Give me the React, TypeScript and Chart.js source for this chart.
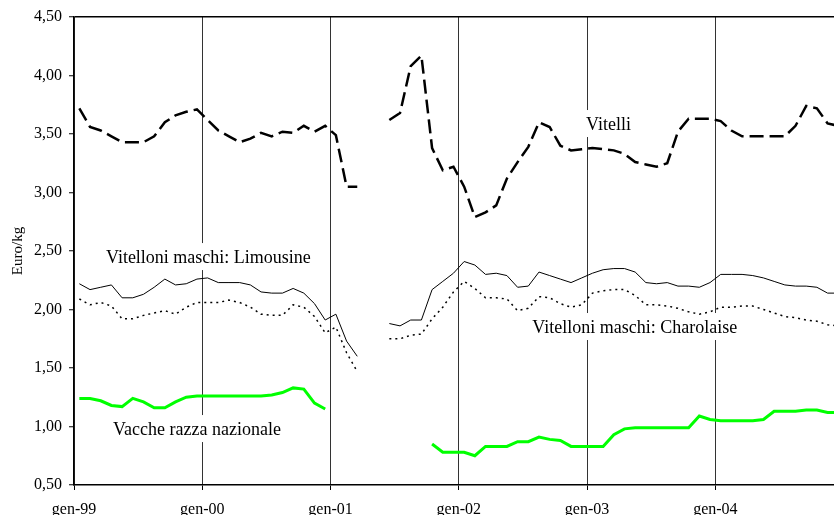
import React, { useEffect, useRef } from 'react';
import { Chart, registerables } from 'chart.js';

Chart.register(...registerables);

// Year tick labels (one every 12 months)
const yearLabels = ['gen-99', 'gen-00', 'gen-01', 'gen-02', 'gen-03', 'gen-04'];
const monthNames = ['gen', 'feb', 'mar', 'apr', 'mag', 'giu', 'lug', 'ago', 'set', 'ott', 'nov', 'dic'];
const years = ['99', '00', '01', '02', '03', '04'];
const months = years.flatMap((yy) => monthNames.map((m) => `${m}-${yy}`));

// Euro/kg, monthly gen-99 .. dic-04 (null = missing)
const vitelli = [
  3.72, 3.56, 3.53, 3.48, 3.43, 3.43, 3.43, 3.48, 3.60, 3.66, 3.69, 3.71,
  3.62, 3.53, 3.48, 3.43, 3.46, 3.51, 3.48, 3.52, 3.51, 3.57, 3.52, 3.57,
  3.49, 3.05, 3.05, null, null, 3.62, 3.68, 4.08, 4.17, 3.38, 3.19, 3.22,
  3.05, 2.79, 2.83, 2.89, 3.12, 3.26, 3.39, 3.60, 3.56, 3.40, 3.36, 3.37,
  3.38, 3.37, 3.36, 3.33, 3.26, 3.24, 3.22, 3.25, 3.52, 3.63, 3.63, 3.63,
  3.61, 3.53, 3.48, 3.48, 3.48, 3.48, 3.48, 3.57, 3.74, 3.72, 3.59, 3.57,
];
const limousine = [
  2.22, 2.17, 2.19, 2.21, 2.10, 2.10, 2.13, 2.19, 2.26, 2.21, 2.22, 2.26,
  2.27, 2.23, 2.23, 2.23, 2.21, 2.15, 2.14, 2.14, 2.18, 2.14, 2.05, 1.91,
  1.96, 1.73, 1.60, null, null, 1.88, 1.86, 1.91, 1.91, 2.17, 2.24, 2.31,
  2.41, 2.38, 2.30, 2.31, 2.29, 2.19, 2.20, 2.32, 2.29, 2.26, 2.23, 2.27,
  2.31, 2.34, 2.35, 2.35, 2.32, 2.23, 2.22, 2.23, 2.20, 2.20, 2.19, 2.23,
  2.30, 2.30, 2.30, 2.29, 2.27, 2.24, 2.21, 2.20, 2.20, 2.19, 2.14, 2.14,
];
const charolaise = [
  2.09, 2.04, 2.06, 2.03, 1.92, 1.92, 1.95, 1.97, 1.99, 1.96, 2.02, 2.06,
  2.06, 2.06, 2.08, 2.06, 2.02, 1.96, 1.95, 1.95, 2.04, 2.02, 1.94, 1.80,
  1.85, 1.63, 1.47, null, null, 1.75, 1.75, 1.78, 1.79, 1.92, 2.02, 2.15,
  2.24, 2.18, 2.10, 2.10, 2.09, 1.99, 2.01, 2.11, 2.10, 2.05, 2.02, 2.04,
  2.14, 2.16, 2.17, 2.17, 2.12, 2.04, 2.04, 2.03, 2.01, 1.98, 1.96, 1.98,
  2.02, 2.02, 2.03, 2.03, 2.00, 1.97, 1.94, 1.93, 1.91, 1.90, 1.87, 1.86,
];
const vacche = [
  1.24, 1.24, 1.22, 1.18, 1.17, 1.24, 1.21, 1.16, 1.16, 1.21, 1.25, 1.26,
  1.26, 1.26, 1.26, 1.26, 1.26, 1.26, 1.27, 1.29, 1.33, 1.32, 1.20, 1.15,
  null, null, null, null, null, null, null, null, null, 0.85, 0.78, 0.78,
  0.78, 0.75, 0.83, 0.83, 0.83, 0.87, 0.87, 0.91, 0.89, 0.88, 0.83, 0.83,
  0.83, 0.83, 0.93, 0.98, 0.99, 0.99, 0.99, 0.99, 0.99, 0.99, 1.09, 1.06,
  1.05, 1.05, 1.05, 1.05, 1.06, 1.13, 1.13, 1.13, 1.14, 1.14, 1.12, 1.12,
];

// Series labels anchored in data coordinates (month position, value at text baseline)
const seriesLabels = [
  { text: 'Vitelli', month: 47.9, value: 3.534, align: 'left' },
  { text: 'Vitelloni maschi: Limousine', month: 2.99, value: 2.397, align: 'left' },
  { text: 'Vitelloni maschi: Charolaise', month: 62.04, value: 1.799, align: 'right' },
  { text: 'Vacche razza nazionale', month: 3.65, value: 0.927, align: 'left' },
];

const X_MAX = 71.1;
const SERIF = '"Liberation Serif", "Times New Roman", serif';

const toPoints = (arr: (number | null)[]) => arr.map((v, i) => ({ x: i + 0.5, y: v, label: months[i] }));

const labelPlugin = {
  id: 'seriesLabels',
  beforeDatasetsDraw(chart: any) {
    const { ctx, scales } = chart;
    const xs = scales.x;
    const ys = scales.y;
    ctx.save();
    ctx.font = `18px ${SERIF}`;
    ctx.textBaseline = 'alphabetic';
    ctx.textAlign = 'left';
    for (const a of seriesLabels) {
      const w = ctx.measureText(a.text).width;
      const px = xs.getPixelForValue(a.month);
      const py = ys.getPixelForValue(a.value);
      const left = a.align === 'right' ? px - w : px;
      ctx.fillStyle = '#ffffff';
      ctx.fillRect(left - 3, py - 20, w + 6, 27);
      ctx.fillStyle = '#000000';
      ctx.fillText(a.text, left, py);
    }
    ctx.restore();
  },
};

export default function App() {
  const ref = useRef<HTMLCanvasElement | null>(null);

  useEffect(() => {
    if (!ref.current) return;
    const chart = new Chart(ref.current, {
      type: 'line',
      data: {
        datasets: [
          {
            label: 'Vitelli',
            data: toPoints(vitelli) as any,
            borderColor: '#000',
            borderWidth: 2.5,
            borderDash: [14, 6],
            pointRadius: 0,
            tension: 0,
            spanGaps: false,
          },
          {
            label: 'Vitelloni maschi: Limousine',
            data: toPoints(limousine) as any,
            borderColor: '#000',
            borderWidth: 1,
            pointRadius: 0,
            tension: 0,
            spanGaps: false,
          },
          {
            label: 'Vitelloni maschi: Charolaise',
            data: toPoints(charolaise) as any,
            borderColor: '#000',
            borderWidth: 1.5,
            borderDash: [2, 4],
            pointRadius: 0,
            tension: 0,
            spanGaps: false,
          },
          {
            label: 'Vacche razza nazionale',
            data: toPoints(vacche) as any,
            borderColor: '#00ff00',
            borderWidth: 3,
            pointRadius: 0,
            tension: 0,
            spanGaps: false,
          },
        ],
      },
      options: {
        responsive: false,
        animation: false,
        devicePixelRatio: 1,
        parsing: { xAxisKey: 'x', yAxisKey: 'y' } as any,
        layout: { padding: { top: 17, right: 0, left: 0, bottom: 0 } },
        plugins: { legend: { display: false }, tooltip: { enabled: false } },
        scales: {
          x: {
            type: 'linear',
            min: 0,
            max: X_MAX,
            afterFit: (s: any) => {
              s.height = 30;
            },
            afterBuildTicks: (s: any) => {
              s.ticks = yearLabels.map((_, k) => ({ value: k * 12 }));
            },
            grid: {
              color: '#333',
              lineWidth: 1,
              tickLength: 5,
              tickColor: '#000',
              tickWidth: 1,
            },
            border: { color: '#000', width: 1.5 },
            ticks: {
              callback: (v: any) => yearLabels[Math.round(Number(v) / 12)] ?? '',
              maxRotation: 0,
              autoSkip: false,
              padding: 10,
              color: '#000',
              font: { family: SERIF, size: 16 },
            },
          },
          y: {
            min: 0.5,
            max: 4.5,
            afterFit: (s: any) => {
              s.width = 74;
            },
            ticks: {
              stepSize: 0.5,
              callback: (v: any) => Number(v).toFixed(2).replace('.', ','),
              padding: 7,
              color: '#000',
              font: { family: SERIF, size: 16 },
            },
            grid: {
              color: (c: any) => (c.tick && c.tick.value === 4.5 ? '#000' : 'rgba(0,0,0,0)'),
              lineWidth: 1.5,
              tickColor: '#000',
              tickWidth: 1,
              tickLength: 5,
            },
            border: { color: '#000', width: 1.5 },
            title: {
              display: true,
              text: 'Euro/kg',
              color: '#000',
              font: { family: SERIF, size: 15 },
              padding: { top: 9, bottom: 0 },
            },
          },
        },
      },
      plugins: [labelPlugin],
    });
    return () => chart.destroy();
  }, []);

  return (
    <canvas
      ref={ref}
      width={834}
      height={515}
      style={{ position: 'fixed', left: 0, top: 0, display: 'block' }}
    />
  );
}
